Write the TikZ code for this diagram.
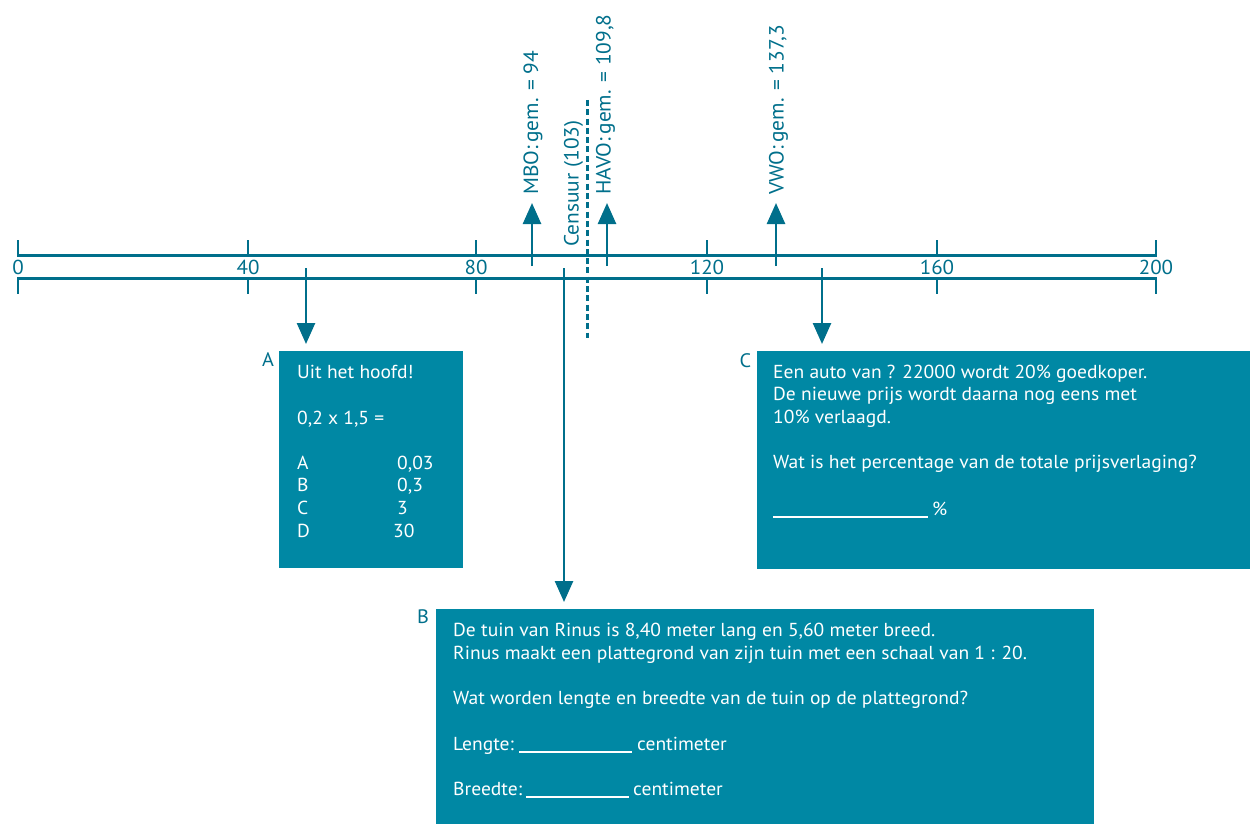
\documentclass[tikz,border=0pt]{standalone}
\usepackage{fontspec}
\setmainfont[FakeStretch=1.04]{PT Sans}
\usetikzlibrary{arrows.meta}
\definecolor{boxteal}{RGB}{0,136,164}
\definecolor{lineteal}{RGB}{0,111,139}
\begin{document}
\begin{tikzpicture}[x=1pt,y=-1pt,
  axisline/.style={line width=2.6pt,draw=lineteal},
  tickline/.style={line width=2.6pt,draw=lineteal},
  arrowline/.style={line width=2.6pt,draw=lineteal,-{Triangle[width=18pt,length=21pt]}},
  dashline/.style={line width=3pt,draw=lineteal,dash pattern=on 6pt off 3.3pt},
  num/.style={text=lineteal,font=\fontsize{20.2}{24}\selectfont,inner sep=0pt},
  vlabel/.style={text=lineteal,font=\fontsize{20.6}{24}\selectfont,rotate=90,anchor=base west,inner sep=0pt},
  qbox/.style={fill=boxteal,draw=none,inner sep=0pt,outer sep=0pt,anchor=north west},
  qtext/.style={text=white,font=\fontsize{18.8}{22.6}\selectfont,anchor=base west,inner sep=0pt},
  blank/.style={draw=white,line width=1.6pt},
  letter/.style={text=lineteal,font=\fontsize{19.5}{24}\selectfont,inner sep=0pt}]
\useasboundingbox (0,0) rectangle (1250,824);

% axis
\coordinate (u0) at (18,255.5);
\coordinate (u200) at (1156,255.5);
\coordinate (l0) at (18,278.5);
\coordinate (l200) at (1156,278.5);
\draw[axisline] (u0) -- (u200);
\draw[axisline] (l0) -- (l200);
\foreach \x/\v in {18/0,248/40,476/80,707/120,937/160,1156/200}{
  \draw[tickline] (\x,240) -- (\x,256.8);
  \draw[tickline] (\x,277.2) -- (\x,294);
  \node[num] (n\v) at (\x,267) {\v};
}

% up arrows
\coordinate (mboB) at (532,266);
\coordinate (mboT) at (532,203);
\coordinate (havoB) at (607,266);
\coordinate (havoT) at (607,203);
\coordinate (vwoB) at (776,266);
\coordinate (vwoT) at (776,203);
\draw[arrowline] (mboB) -- (mboT);
\draw[arrowline] (havoB) -- (havoT);
\draw[arrowline] (vwoB) -- (vwoT);

% vertical labels
\node[vlabel] (mbo) at (538,195) {MBO:\,gem. = 94};
\node[vlabel] (cens) at (578.5,247) {Censuur (103)};
\node[vlabel] (havo) at (610.5,195) {HAVO:\,gem. = 109,8};
\node[vlabel] (vwo) at (783.5,195) {VWO:\,gem. = 137,3};

% dashed censuur line
\coordinate (dT) at (587,100);
\coordinate (dB) at (587,338);
\draw[dashline] (dT) -- (dB);

% boxes
\node[qbox,minimum width=184pt,minimum height=217pt] (boxA) at (279,351) {};
\node[qbox,minimum width=493pt,minimum height=218pt] (boxC) at (757,351) {};
\node[qbox,minimum width=658pt,minimum height=215pt] (boxB) at (436,609) {};

% down arrows
\coordinate (aS) at (306,268);
\coordinate (aE) at (306,344);
\coordinate (cS) at (822,268);
\coordinate (cE) at (822,344);
\coordinate (bS) at (564,268);
\coordinate (bE) at (564,602);
\draw[arrowline] (aS) -- (aE);
\draw[arrowline] (cS) -- (cE);
\draw[arrowline] (bS) -- (bE);

% letters
\node[letter] (la) at (268,359.5) {A};
\node[letter] (lb) at (423,616.5) {B};
\node[letter] (lc) at (745.5,360.5) {C};

% box A text
\node[qtext] (a1) at (297,378) {Uit het hoofd!};
\node[qtext] (a2) at (297,424) {0,2 x 1,5 =};
\node[qtext] (a3) at (297,469) {A};
\node[qtext] (a4) at (297,491.5) {B};
\node[qtext] (a5) at (297,514.5) {C};
\node[qtext] (a6) at (297,537) {D};
\node[qtext] (v3) at (397,469) {0,03};
\node[qtext] (v4) at (397,491.5) {0,3};
\node[qtext] (v5) at (397,514.5) {3};
\node[qtext] (v6) at (393,537) {30};

% box C text
\node[qtext] (c1) at (773,378) {Een auto van ? 22000 wordt 20\% goedkoper.};
\node[qtext] (c2) at (773,400.5) {De nieuwe prijs wordt daarna nog eens met};
\node[qtext] (c3) at (773,423) {10\% verlaagd.};
\node[qtext] (c4) at (773,468) {Wat is het percentage van de totale prijsverlaging?};
\coordinate (cuL) at (773,517);
\coordinate (cuR) at (928,517);
\draw[blank] (cuL) -- (cuR);
\node[qtext] (c5) at (932,515) {\%};

% box B text
\node[qtext] (b1) at (453,636) {De tuin van Rinus is 8,40 meter lang en 5,60 meter breed.};
\node[qtext] (b2) at (453,659) {Rinus maakt een plattegrond van zijn tuin met een schaal van 1 : 20.};
\node[qtext] (b3) at (453,704) {Wat worden lengte en breedte van de tuin op de plattegrond?};
\node[qtext] (b4) at (453,750) {Lengte:};
\coordinate (luL) at (519,752);
\coordinate (luR) at (632,752);
\draw[blank] (luL) -- (luR);
\node[qtext] (b5) at (637,750) {centimeter};
\node[qtext] (b6) at (453,795) {Breedte:};
\coordinate (buL) at (526,797);
\coordinate (buR) at (629,797);
\draw[blank] (buL) -- (buR);
\node[qtext] (b7) at (633,795) {centimeter};
\end{tikzpicture}
\end{document}
